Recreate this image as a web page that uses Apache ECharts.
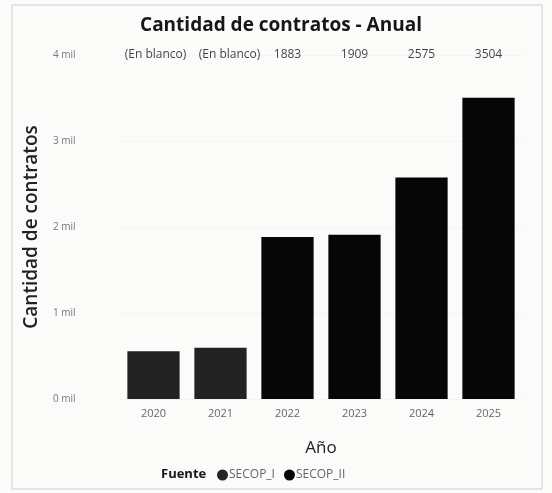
<!DOCTYPE html>
<html>
<head>
<meta charset="utf-8">
<script src="https://cdn.jsdelivr.net/npm/echarts@6/dist/echarts.min.js"></script>
<style>
html,body{margin:0;padding:0;background:#fbfbfa;}
#c{width:552px;height:493px;}
</style>
</head>
<body>
<div id="c"></div>
<script>
var years = ['2020', '2021', '2022', '2023', '2024', '2025'];
var secopI = [555, 596, null, null, null, null];
var secopII = [null, null, 1883, 1909, 2575, 3504];
var topLabels = ['(En blanco)', '(En blanco)', '1883', '1909', '2575', '3504'];
var yTicks = [0, 1000, 2000, 3000, 4000];

var FONT = '"Open Sans", "Noto Sans", sans-serif';
var chart = echarts.init(document.getElementById('c'));
var yMax = yTicks[yTicks.length - 1];
var labelShift = [[2, 0], [9, 0], [0, 0], [0, 0], [0, 0], [0, 0]];

chart.setOption({
  backgroundColor: '#fbfbfa',
  animation: false,
  title: [{
    text: 'Cantidad de contratos - Anual',
    left: 276, top: 11, textAlign: 'center',
    textStyle: {fontFamily: FONT, fontSize: 19, fontWeight: 'bold', color: '#161616'}
  }, {
    text: 'Fuente',
    left: 156, top: 463,
    textStyle: {fontFamily: FONT, fontSize: 13, fontWeight: 'bold', color: '#161616'}
  }],
  graphic: [{
    type: 'rect', shape: {x: 12, y: 5, width: 530, height: 484},
    style: {fill: 'none', stroke: '#cfcfcf', lineWidth: 1}, silent: true, z: -1
  }],
  legend: {
    left: 212, top: 464,
    icon: 'circle', itemWidth: 11, itemHeight: 11, itemGap: 9,
    data: ['SECOP_I', 'SECOP_II'],
    textStyle: {fontFamily: FONT, fontSize: 12, color: '#666', padding: [0, 0, 0, -4]}
  },
  grid: {left: 120, right: 30, top: 55, bottom: 94},
  xAxis: {
    type: 'category', data: years,
    name: 'Año', nameLocation: 'middle', nameGap: 41,
    nameTextStyle: {fontFamily: FONT, fontSize: 17, color: '#222'},
    axisLine: {show: false}, axisTick: {show: false},
    axisLabel: {fontFamily: FONT, fontSize: 11, color: '#666', margin: 9}
  },
  yAxis: {
    type: 'value', min: 0, max: yMax, interval: 1000,
    name: 'Cantidad de contratos', nameLocation: 'middle', nameGap: 79,
    nameTextStyle: {fontFamily: FONT, fontSize: 19, fontWeight: 600, color: '#222'},
    axisLine: {show: false}, axisTick: {show: false},
    axisLabel: {
      fontFamily: FONT, fontSize: 10, color: '#777', align: 'left', margin: 67,
      formatter: function (v) { return (v / 1000) + ' mil'; }
    },
    splitLine: {show: true, lineStyle: {color: '#ededed', type: 'dotted'}}
  },
  series: [{
    name: 'SECOP_I', type: 'bar', stack: 'a', data: secopI,
    barCategoryGap: '22%',
    itemStyle: {color: '#232323'}
  }, {
    name: 'SECOP_II', type: 'bar', stack: 'a', data: secopII,
    barCategoryGap: '22%',
    itemStyle: {color: '#060606'}
  }, {
    type: 'scatter', symbolSize: 0, silent: true,
    data: topLabels.map(function (t, i) {
      return {value: yMax, label: {formatter: t, offset: labelShift[i]}};
    }),
    label: {
      show: true, position: 'inside',
      fontFamily: FONT, fontSize: 12, fontWeight: 'normal', color: '#111'
    }
  }]
});
</script>
</body>
</html>
